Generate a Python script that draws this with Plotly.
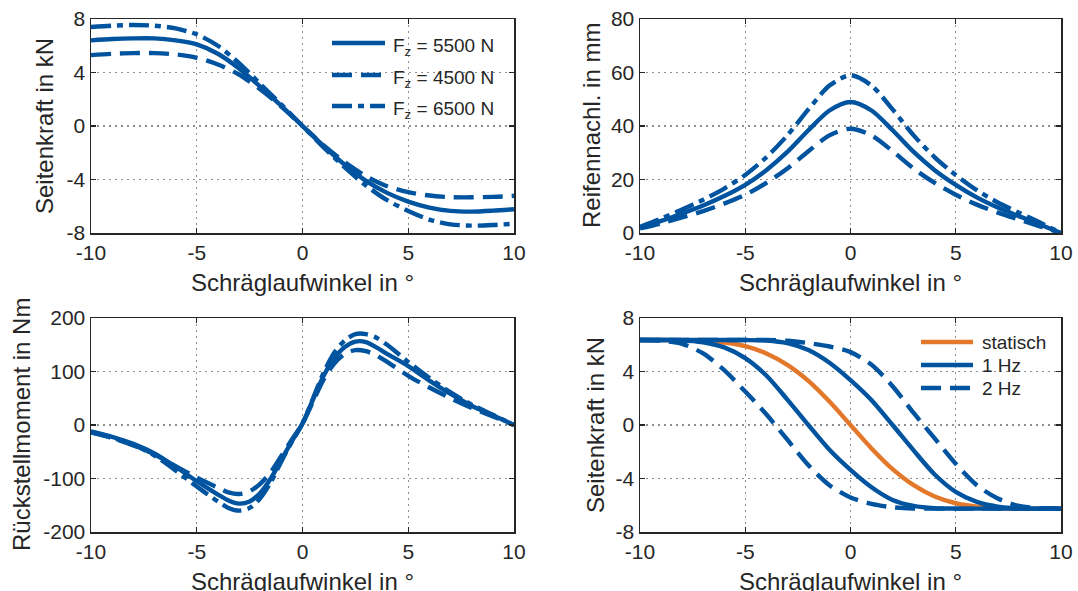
import plotly.graph_objects as go
from plotly.subplots import make_subplots

W, H = 1078, 591
FONT = "Liberation Sans, Arial, Helvetica, sans-serif"
BLUE = "#00549F"
ORANGE = "#E3772A"
TXT = "#262626"

# ---------------- data ----------------
alpha = [-10, -9, -8, -7, -6, -5, -4, -3, -2, -1, 0, 1, 2, 3, 4, 5, 6, 7, 8, 9, 10]

# top-left: Seitenkraft in kN
fy_5500 = [6.4, 6.5, 6.55, 6.55, 6.4, 6.1, 5.4, 4.3, 2.95, 1.5, 0.0, -1.5, -2.9, -4.1, -5.0, -5.65, -6.1, -6.35, -6.4, -6.33, -6.22]
fy_4500 = [5.3, 5.4, 5.45, 5.45, 5.35, 5.1, 4.6, 3.85, 2.75, 1.45, 0.0, -1.45, -2.7, -3.75, -4.5, -4.95, -5.2, -5.32, -5.33, -5.3, -5.22]
fy_6500 = [7.4, 7.5, 7.55, 7.5, 7.3, 6.85, 6.0, 4.7, 3.15, 1.6, 0.0, -1.6, -3.1, -4.45, -5.55, -6.35, -7.0, -7.35, -7.45, -7.4, -7.3]

# top-right: Reifennachlauf in mm
tr_5500 = [2.0, 4.5, 7.3, 10.3, 13.8, 18.0, 23.5, 30.3, 38.4, 45.8, 49.0, 45.8, 38.4, 30.3, 23.5, 18.0, 13.3, 9.5, 6.3, 3.2, 0.0]
tr_4500 = [1.7, 3.6, 5.8, 8.2, 11.0, 14.3, 18.7, 24.1, 30.6, 36.5, 39.0, 36.5, 30.6, 24.1, 18.7, 14.3, 10.6, 7.6, 5.0, 2.5, 0.0]
tr_6500 = [2.3, 5.4, 8.8, 12.4, 16.6, 21.7, 28.3, 36.5, 46.2, 55.1, 59.0, 55.1, 46.2, 36.5, 28.3, 21.7, 16.0, 11.4, 7.6, 3.9, 0.0]

# bottom-left: Rueckstellmoment in Nm
alpha_mz = [-10, -9, -8, -7, -6, -5, -4, -3.5, -3, -2.5, -2, -1.5, -1, -0.5, 0, 0.5, 1, 1.5, 2, 2.5, 3, 3.5, 4, 5, 6, 7, 8, 9, 10]
mz_5500 = [-12, -22, -35, -53, -78, -105, -130, -141, -147, -143, -127, -100, -65, -30, 3, 48, 92, 125, 146, 156, 155, 145, 133, 110, 83, 58, 36, 18, 0]
mz_4500 = [-13, -24, -38, -55, -77, -98, -117, -126, -129, -124, -110, -88, -58, -27, 3, 44, 85, 115, 133, 140, 138, 130, 118, 92, 70, 50, 32, 16, 0]
mz_6500 = [-14, -24, -37, -57, -85, -115, -143, -155, -160, -155, -137, -107, -68, -31, 3, 50, 98, 135, 158, 170, 170, 163, 150, 118, 88, 61, 38, 19, 0]

# bottom-right: Seitenkraft in kN, dynamic
fy_stat = [6.35, 6.35, 6.34, 6.3, 6.17, 5.9, 5.35, 4.5, 3.3, 1.75, 0.0, -1.75, -3.3, -4.5, -5.35, -5.85, -6.1, -6.2, -6.25, -6.25, -6.25]
fy_1hz_a = [6.35, 6.35, 6.34, 6.18, 5.8, 5.0, 3.7, 1.9, 0.0, -1.85, -3.35, -4.65, -5.6, -6.05, -6.22, -6.25, -6.25, -6.25, -6.25, -6.25, -6.25]
fy_1hz_b = [6.35, 6.35, 6.35, 6.35, 6.35, 6.35, 6.32, 6.12, 5.6, 4.65, 3.35, 1.85, 0.0, -1.9, -3.7, -5.0, -5.75, -6.1, -6.23, -6.25, -6.25]
fy_2hz_a = [6.35, 6.3, 6.07, 5.35, 4.1, 2.5, 0.8, -1.1, -3.0, -4.5, -5.42, -5.9, -6.15, -6.24, -6.25, -6.25, -6.25, -6.25, -6.25, -6.25, -6.25]
fy_2hz_b = [6.35, 6.35, 6.35, 6.35, 6.35, 6.35, 6.35, 6.3, 6.12, 5.87, 5.45, 4.5, 2.9, 0.9, -1.0, -2.9, -4.5, -5.5, -6.05, -6.22, -6.25]

x_ticks = [-10, -5, 0, 5, 10]
x_ticktext = ["-10", "-5", "0", "5", "10"]
fy_ticks = [-8, -4, 0, 4, 8]
fy_ticktext = ["-8", "-4", "0", "4", "8"]
tr_ticks = [0, 20, 40, 60, 80]
tr_ticktext = ["0", "20", "40", "60", "80"]
mz_ticks = [-200, -100, 0, 100, 200]
mz_ticktext = ["-200", "-100", "0", "100", "200"]

x_title = "Schräglaufwinkel in °"
y_titles = ["Seitenkraft in kN", "Reifennachl. in mm", "Rückstellmoment in Nm", "Seitenkraft in kN"]
legend_fz = ["F<sub>z</sub> = 5500 N", "F<sub>z</sub> = 4500 N", "F<sub>z</sub> = 6500 N"]
legend_dyn = ["statisch", "1 Hz", "2 Hz"]

# ---------------- styles ----------------
LW = 4.4
DASH = "20px,9px"
DASHDOT = "20px,6px,6px,6px"

fig = make_subplots(rows=2, cols=2)


def add(x, y, row, col, color=BLUE, dash="solid"):
    fig.add_trace(go.Scatter(x=x, y=y, mode="lines",
                             line=dict(color=color, width=LW, dash=dash, shape="spline", smoothing=0.8),
                             showlegend=False, hoverinfo="skip"), row=row, col=col)


add(alpha, fy_5500, 1, 1)
add(alpha, fy_4500, 1, 1, dash=DASH)
add(alpha, fy_6500, 1, 1, dash=DASHDOT)

add(alpha, tr_5500, 1, 2)
add(alpha, tr_4500, 1, 2, dash=DASH)
add(alpha, tr_6500, 1, 2, dash=DASHDOT)

add(alpha_mz, mz_5500, 2, 1)
add(alpha_mz, mz_4500, 2, 1, dash=DASH)
add(alpha_mz, mz_6500, 2, 1, dash=DASHDOT)

add(alpha, fy_stat, 2, 2, color=ORANGE)
add(alpha, fy_1hz_a, 2, 2)
add(alpha, fy_1hz_b, 2, 2)
add(alpha, fy_2hz_a, 2, 2, dash=DASH)
add(alpha, fy_2hz_b, 2, 2, dash=DASH)

# ---------------- layout ----------------
def px(x):
    return x / W


def py(y):
    return 1 - y / H


XL = [px(91), px(514)]
XR = [px(640), px(1061)]
YT = [py(233), py(19)]
YB = [py(532), py(318)]

common = dict(showline=True, linecolor=TXT, linewidth=1.5, mirror="ticks",
              ticks="inside", ticklen=5, tickwidth=1.2, tickcolor=TXT,
              showgrid=True, gridcolor="#909090", griddash="2px,4px", gridwidth=1.3,
              zeroline=False, automargin=False, ticklabeloverflow="allow",
              tickfont=dict(family=FONT, size=21, color=TXT))

xcfg = dict(common, range=[-10, 10], tickvals=x_ticks, ticktext=x_ticktext)
fig.update_layout(
    xaxis=dict(xcfg, domain=XL), xaxis2=dict(xcfg, domain=XR),
    xaxis3=dict(xcfg, domain=XL), xaxis4=dict(xcfg, domain=XR),
    yaxis=dict(common, domain=YT, range=[-8, 8], tickvals=fy_ticks, ticktext=fy_ticktext),
    yaxis2=dict(common, domain=YT, range=[0, 80], tickvals=tr_ticks, ticktext=tr_ticktext),
    yaxis3=dict(common, domain=YB, range=[-200, 200], tickvals=mz_ticks, ticktext=mz_ticktext),
    yaxis4=dict(common, domain=YB, range=[-8, 8], tickvals=fy_ticks, ticktext=fy_ticktext),
)

ann = []
# x titles
for xc, yc in [((91 + 514) / 2, 282), ((640 + 1061) / 2, 282), ((91 + 514) / 2, 581), ((640 + 1061) / 2, 581)]:
    ann.append(dict(x=px(xc), y=py(yc), xref="paper", yref="paper", text=x_title, showarrow=False,
                    xanchor="center", yanchor="middle", font=dict(family=FONT, size=24, color=TXT)))
# y titles
for (xc, yc), t in zip([(45, 126), (592, 126), (21, 425), (595, 425)], y_titles):
    ann.append(dict(x=px(xc), y=py(yc), xref="paper", yref="paper", text=t, showarrow=False, textangle=-90,
                    xanchor="center", yanchor="middle", font=dict(family=FONT, size=24, color=TXT)))

shapes = []
# legend top-left
for yrow, lab, d in zip([43, 75, 106], legend_fz, ["solid", DASH, DASHDOT]):
    shapes.append(dict(type="line", xref="paper", yref="paper", x0=px(332), x1=px(385), y0=py(yrow), y1=py(yrow),
                       line=dict(color=BLUE, width=LW, dash=d)))
    ann.append(dict(x=px(391), y=py(yrow + 4), xref="paper", yref="paper", text=lab, showarrow=False,
                    xanchor="left", yanchor="middle", font=dict(family=FONT, size=19, color=TXT)))
# legend bottom-right
for yrow, lab, d, c in zip([342, 365, 388], legend_dyn, ["solid", "solid", DASH], [ORANGE, BLUE, BLUE]):
    shapes.append(dict(type="line", xref="paper", yref="paper", x0=px(921), x1=px(973), y0=py(yrow), y1=py(yrow),
                       line=dict(color=c, width=LW, dash=d)))
    ann.append(dict(x=px(980), y=py(yrow), xref="paper", yref="paper", text=lab, showarrow=False,
                    xanchor="left", yanchor="middle", font=dict(family=FONT, size=19, color=TXT)))

fig.update_layout(width=W, height=H, margin=dict(l=0, r=0, t=0, b=0, pad=0, autoexpand=False),
                  paper_bgcolor="white", plot_bgcolor="white",
                  annotations=ann, shapes=shapes, showlegend=False,
                  font=dict(family=FONT, color=TXT))

# remove the browser's default page margin so the figure fills the window exactly
PAGE_CSS_JS = ("document.body.style.margin='0';document.body.style.overflow='hidden';"
               "document.documentElement.style.overflow='hidden';")
fig.write_html("out.html", post_script=PAGE_CSS_JS,
               config={"displayModeBar": False, "staticPlot": True})
